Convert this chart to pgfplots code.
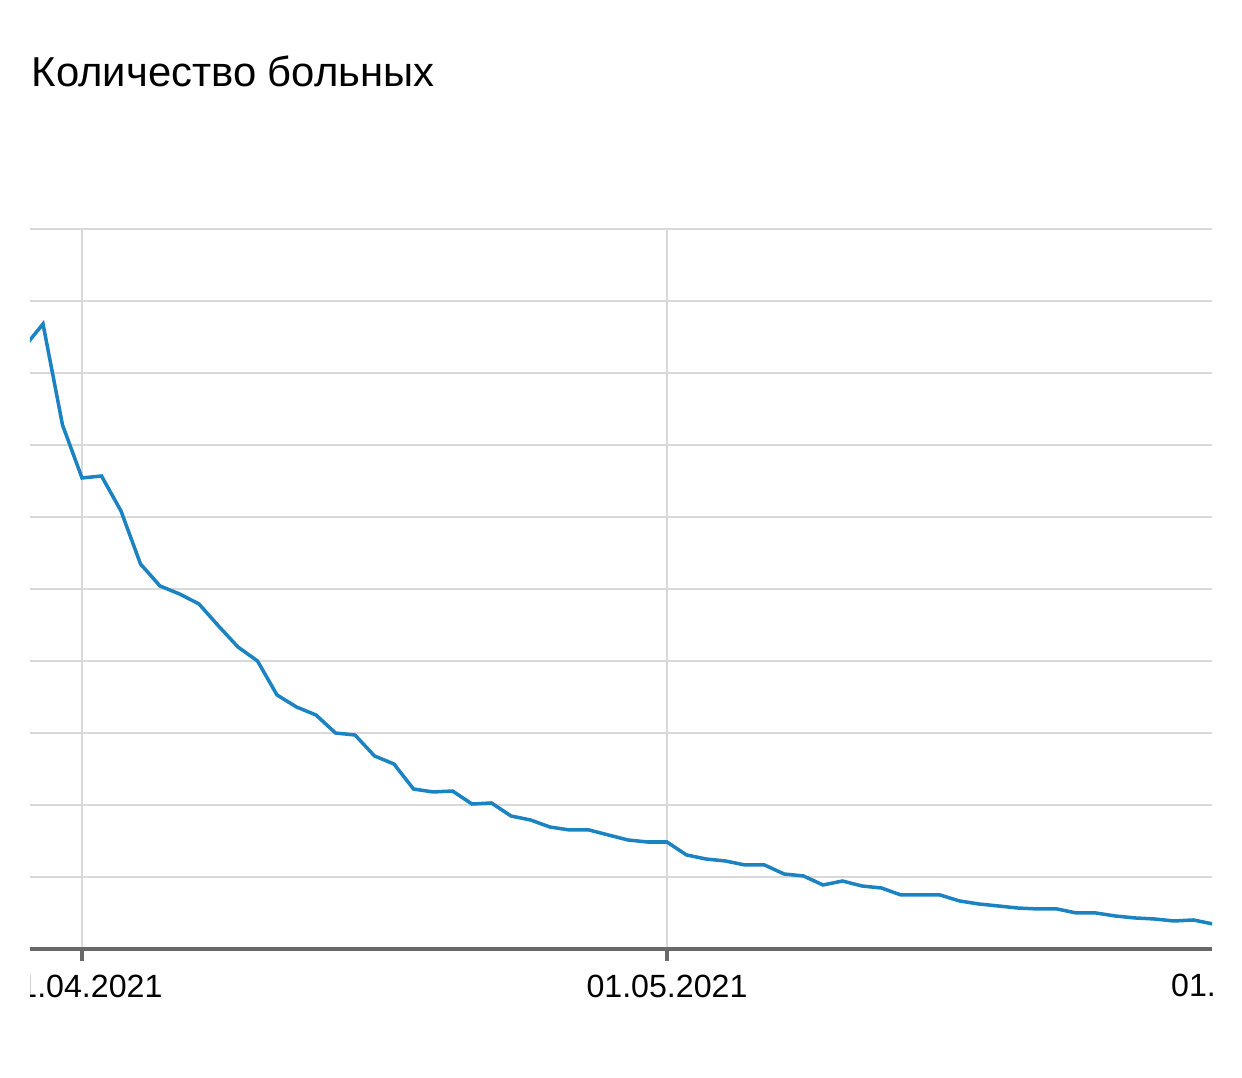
\documentclass[border=0pt]{standalone}
\usepackage{pgfplots}
\pgfplotsset{compat=1.18}
\usepackage{fontspec}
\setmainfont{Liberation Sans}
\definecolor{lineblue}{RGB}{28,131,194}
\definecolor{gridgray}{RGB}{217,217,217}
\definecolor{axisgray}{RGB}{105,105,105}
\pgfplotstableread{
d v
-3 8.347
-2 8.681
-1 7.278
0 6.542
1 6.569
2 6.083
3 5.347
4 5.042
5 4.931
6 4.792
7 4.486
8 4.194
9 4.000
10 3.528
11 3.361
12 3.250
13 3.000
14 2.972
15 2.681
16 2.569
17 2.222
18 2.181
19 2.194
20 2.014
21 2.028
22 1.847
23 1.792
24 1.694
25 1.653
26 1.653
27 1.583
28 1.514
29 1.486
30 1.486
31 1.306
32 1.250
33 1.222
34 1.167
35 1.167
36 1.042
37 1.014
38 0.889
39 0.944
40 0.875
41 0.847
42 0.750
43 0.750
44 0.750
45 0.667
46 0.625
47 0.597
48 0.569
49 0.556
50 0.556
51 0.500
52 0.500
53 0.458
54 0.431
55 0.417
56 0.389
57 0.403
58 0.347
}\patients
\begin{document}
\begin{tikzpicture}[x=1cm,y=1cm]
\useasboundingbox (0,0) rectangle (12.42,10.78);
\node[anchor=base west, inner sep=0pt, font=\fontsize{11.9}{14}\selectfont] at (0.31,9.91) {Количество больных};
\begin{scope}
\clip (0,1.29) rectangle (12.42,10.78) (0.30,0) rectangle (12.12,1.29);
\begin{axis}[
  at={(0.30cm,1.29cm)}, anchor=south west,
  width=11.82cm, height=7.20cm, scale only axis,
  xmin=-2.667, xmax=57.95, ymin=0, ymax=10,
  axis x line*=bottom, axis y line*=left,
  x axis line style={draw=axisgray, line width=0.9pt, -},
  y axis line style={draw=none},
  ytick={0,1,...,10}, yticklabels={},
  ytick style={draw=none},
  xtick={0,30}, xticklabels={01.04.2021,01.05.2021},
  xtick style={draw=axisgray, line width=0.9pt},
  tick align=outside, major tick length=0.12cm,
  xmajorgrids, ymajorgrids,
  major grid style={draw=gridgray, line width=0.8pt},
  xticklabel style={anchor=base, font=\fontsize{9.15}{10}\selectfont, inner sep=0pt, yshift=-0.37cm},
  clip mode=individual,
]
\addplot[lineblue, line width=1pt, no markers] table[x=d, y=v] {\patients};
\node[anchor=base, inner sep=0pt, font=\fontsize{9.15}{10}\selectfont] at (axis cs:59.98,0) [yshift=-0.48cm] {01.06.2021};
\end{axis}
\end{scope}
\end{tikzpicture}
\end{document}
